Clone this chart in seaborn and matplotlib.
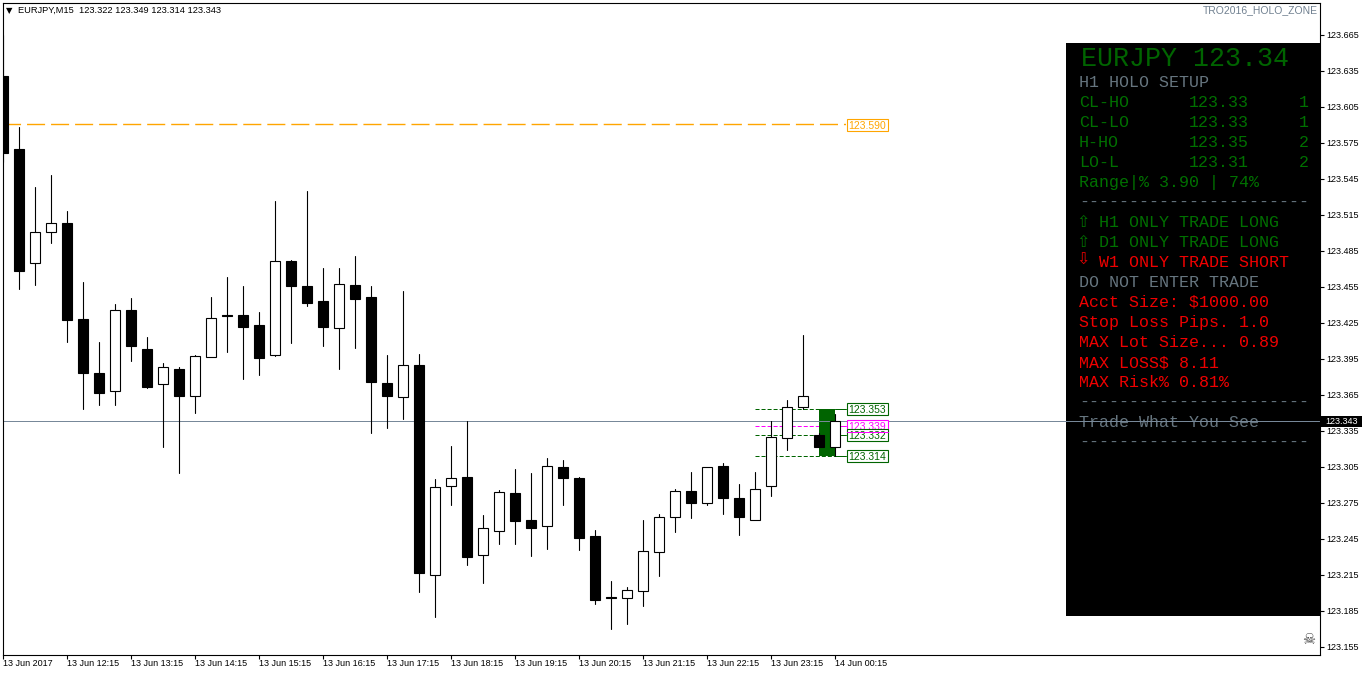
import pandas as pd
import matplotlib.pyplot as plt
import matplotlib.patches as patches
import seaborn as sns

symbol_header = "EURJPY,M15  123.322 123.349 123.314 123.343"
indicator_name = "TRO2016_HOLO_ZONE"

opens = [123.631, 123.570, 123.475, 123.501, 123.508, 123.428, 123.383, 123.368, 123.436,
         123.403, 123.374, 123.387, 123.364, 123.397, 123.432, 123.432, 123.423, 123.398,
         123.477, 123.456, 123.443, 123.421, 123.457, 123.447, 123.375, 123.363, 123.390,
         123.215, 123.289, 123.297, 123.232, 123.252, 123.283, 123.261, 123.256, 123.305,
         123.296, 123.2475, 123.197, 123.196, 123.202, 123.234, 123.263, 123.285, 123.275,
         123.306, 123.279, 123.261, 123.289, 123.329, 123.355, 123.332, 123.322]
closes = [123.567, 123.468, 123.501, 123.508, 123.4275, 123.383, 123.367, 123.436, 123.406,
          123.372, 123.388, 123.364, 123.3975, 123.429, 123.431, 123.422, 123.396, 123.477,
          123.456, 123.442, 123.422, 123.4575, 123.445, 123.376, 123.364, 123.390, 123.217,
          123.288, 123.296, 123.230, 123.254, 123.284, 123.260, 123.254, 123.306, 123.296,
          123.246, 123.194, 123.196, 123.2025, 123.235, 123.263, 123.285, 123.275, 123.305,
          123.279, 123.263, 123.287, 123.330, 123.355, 123.364, 123.322, 123.343]
highs = [123.665, 123.588, 123.538, 123.548, 123.518, 123.459, 123.409, 123.441, 123.446,
         123.413, 123.392, 123.388, 123.398, 123.447, 123.463, 123.456, 123.434, 123.527,
         123.4775, 123.535, 123.471, 123.471, 123.481, 123.456, 123.398, 123.452, 123.399,
         123.295, 123.3225, 123.343, 123.265, 123.286, 123.303, 123.300, 123.3125, 123.311,
         123.2967, 123.2525, 123.210, 123.205, 123.261, 123.266, 123.287, 123.301, 123.305,
         123.308, 123.291, 123.301, 123.343, 123.361, 123.415, 123.333, 123.349]
lows = [123.559, 123.453, 123.457, 123.492, 123.409, 123.353, 123.357, 123.357, 123.393,
        123.371, 123.322, 123.300, 123.350, 123.401, 123.401, 123.378, 123.382, 123.3975,
        123.408, 123.439, 123.406, 123.387, 123.404, 123.333, 123.3375, 123.345, 123.201,
        123.180, 123.273, 123.223, 123.208, 123.241, 123.241, 123.231, 123.237, 123.273,
        123.236, 123.191, 123.170, 123.174, 123.189, 123.214, 123.251, 123.2625, 123.273,
        123.266, 123.248, 123.261, 123.281, 123.319, 123.353, 123.322, 123.314]

tick_labels = ["13 Jun 2017", "13 Jun 12:15", "13 Jun 13:15", "13 Jun 14:15", "13 Jun 15:15",
               "13 Jun 16:15", "13 Jun 17:15", "13 Jun 18:15", "13 Jun 19:15", "13 Jun 20:15",
               "13 Jun 21:15", "13 Jun 22:15", "13 Jun 23:15", "14 Jun 00:15"]
price_ticks = [123.665, 123.635, 123.605, 123.575, 123.545, 123.515, 123.485, 123.455, 123.425,
               123.395, 123.365, 123.335, 123.305, 123.275, 123.245, 123.215, 123.185, 123.155]
current_price = 123.343
orange_level = 123.590
green_levels = [123.353, 123.332, 123.314]
magenta_level = 123.339

panel_lines = [
    ("H1 HOLO SETUP", "grey"),
    ("CL-HO", "green"),
    ("CL-LO", "green"),
    ("H-HO", "green"),
    ("LO-L", "green"),
    ("Range|% 3.90 | 74%", "green"),
    ("-" * 23, "grey"),
    ("  H1 ONLY TRADE LONG", "green"),
    ("  D1 ONLY TRADE LONG", "green"),
    ("  W1 ONLY TRADE SHORT", "red"),
    ("DO NOT ENTER TRADE", "grey"),
    ("Acct Size: $1000.00", "red"),
    ("Stop Loss Pips. 1.0", "red"),
    ("MAX Lot Size... 0.89", "red"),
    ("MAX LOSS$ 8.11", "red"),
    ("MAX Risk% 0.81%", "red"),
    ("-" * 23, "grey"),
    ("Trade What You See", "grey"),
    ("-" * 23, "grey"),
]
holo_prices = ["123.33", "123.33", "123.35", "123.31"]
holo_counts = ["1", "1", "2", "2"]
panel_colors = {"grey": "#66757f", "green": "#007000", "red": "#f00000"}

W, H = 1362, 675
AX_L, AX_R, AX_T, AX_B = 2.5, 1319.5, 2.5, 654.5


def px_x(x):
    return (x - 3) / 16


def px_y(y):
    return 123.665 - (y - 35) / 1200


sns.set_theme(style="white", rc={"axes.linewidth": 0.8, "axes.edgecolor": "black", "lines.scale_dashes": False})
plt.rcParams["font.family"] = ["Liberation Sans", "DejaVu Sans"]

df = pd.DataFrame({"open": opens, "high": highs, "low": lows, "close": closes})
df["bar"] = range(len(df))
df["body"] = (df["open"] - df["close"]).abs()
df["base"] = df[["open", "close"]].min(axis=1)
wicks = df.melt(id_vars="bar", value_vars=["high", "low"], value_name="price").sort_values("bar")
bears = df[df["close"] < df["open"]]
bulls = df[df["close"] >= df["open"]]

fig = plt.figure(figsize=(W / 100, H / 100), dpi=100, facecolor="white")
ax = fig.add_axes([AX_L / W, 1 - AX_B / H, (AX_R - AX_L) / W, (AX_B - AX_T) / H])

# info panel sits low so the price line runs over it, candles never reach it
panel = patches.Rectangle((1066 / W, 1 - 616 / H), (AX_R - 1066) / W, (616 - 43) / H,
                          transform=fig.transFigure, facecolor="black", edgecolor="none", zorder=0.5)
ax.add_patch(panel)
panel_text = dict(transform=fig.transFigure, family="Liberation Mono", va="center", zorder=1.7)
ax.text(1081 / W, 1 - 58.5 / H, "EURJPY 123.34", fontsize=19.2, color="#006400", **panel_text)
for n, (line, col) in enumerate(panel_lines):
    indent = len(line) - len(line.lstrip())
    ax.text((1079 + 10 * indent) / W, 1 - (82.5 + 20 * n) / H, line.lstrip(), fontsize=12,
            color=panel_colors[col], **panel_text)
for n in range(4):
    row = 1 - (102.5 + 20 * n) / H
    ax.text(1189 / W, row, holo_prices[n], fontsize=12, color=panel_colors["green"], **panel_text)
    ax.text(1299 / W, row, holo_counts[n], fontsize=12, color=panel_colors["green"], **panel_text)
arrows = [(222.5, "\u21e7", "green"), (242.5, "\u21e7", "green"), (260.5, "\u21e9", "red")]
for row, glyph, col in arrows:
    ax.text(1082.5 / W, 1 - row / H, glyph, transform=fig.transFigure, family="DejaVu Sans", fontsize=11.5,
            color=panel_colors[col], ha="center", va="center", zorder=1.7)

# dotted levels and holo zone go under the candles
for lvl in green_levels:
    ax.plot([px_x(755), px_x(835)], [lvl, lvl], color="#006400", lw=0.72, dashes=(2.9, 1.44), zorder=1)
    ax.plot([px_x(835), px_x(846)], [lvl, lvl], color="#006400", lw=0.72, zorder=1)
ax.plot([px_x(755), px_x(841)], [magenta_level, magenta_level], color="#ff00ff", lw=0.72,
        dashes=(2.9, 1.44), zorder=1)
ax.plot([px_x(835), px_x(846)], [magenta_level, magenta_level], color="#ff00ff", lw=0.72, zorder=1)
ax.add_patch(patches.Rectangle((51, green_levels[2]), 1, green_levels[0] - green_levels[2],
                               facecolor="#006400", edgecolor="none", zorder=1.5))
ax.plot([px_x(3), px_x(846)], [orange_level + 0.5 / 1200] * 2, color="#ffa500", lw=1.0,
        dashes=(13, 4.3), zorder=1, snap=False)

ax.axhline(current_price, color="#778899", lw=0.72, zorder=1.8)

sns.lineplot(data=wicks, x="bar", y="price", units="bar", estimator=None, color="black",
             lw=0.8, ax=ax, legend=False, zorder=2)
sns.barplot(data=bulls, x="bar", y="body", bottom=bulls["base"], native_scale=True, width=0.58,
            color="white", edgecolor="black", linewidth=0.8, saturation=1, ax=ax, zorder=3)
sns.barplot(data=bears, x="bar", y="body", bottom=bears["base"], native_scale=True, width=0.63,
            color="black", edgecolor="black", linewidth=0.8, saturation=1, ax=ax, zorder=3)

ax.set_xlim(px_x(AX_L), px_x(AX_R))
ax.set_ylim(px_y(AX_B), px_y(AX_T))
ax.set_xlabel("")
ax.set_ylabel("")
ax.set_xticks(range(0, 4 * len(tick_labels), 4))
ax.set_xticklabels(tick_labels, ha="left", fontsize=6.5)
ax.set_yticks(price_ticks)
ax.set_yticklabels([f"{p:.3f}" for p in price_ticks], fontsize=6.5)
ax.yaxis.tick_right()
ax.tick_params(axis="x", length=3, width=0.8, pad=0.5, color="black", labelcolor="black", bottom=True)
ax.tick_params(axis="y", length=3, width=0.8, pad=2, color="black", labelcolor="black", right=True)


def level_label(price, color, z):
    ax.add_patch(patches.Rectangle((px_x(846.5), price - 6 / 1200), 41 / 16, 12 / 1200, facecolor="white",
                                   edgecolor=color, lw=0.8, zorder=z))
    ax.text(px_x(867), price, f"{price:.3f}", fontsize=7.5, color=color, ha="center", va="center_baseline",
            zorder=z + 0.1)


level_label(orange_level, "#ffa500", 5)
level_label(magenta_level, "#ff00ff", 5)
for lvl in green_levels:
    level_label(lvl, "#006400", 6)
# bottom edge of the magenta box stays visible over the 123.332 box
ax.plot([px_x(846.5), px_x(887.5)], [magenta_level - 6 / 1200] * 2, color="#ff00ff", lw=0.72, zorder=7)

fig.patches.append(patches.Rectangle((1321 / W, 1 - 426.7 / H), 41 / W, 10.7 / H, transform=fig.transFigure,
                                     facecolor="black", edgecolor="none", zorder=19, figure=fig))
fig.text(1341.5 / W, 1 - 421.5 / H, f"{current_price:.3f}", fontsize=6.5, color="white", ha="center", va="center",
         zorder=20)
fig.text(18 / W, 1 - 10.5 / H, symbol_header, fontsize=6.7, color="black", va="center")
fig.text(9.5 / W, 1 - 10.5 / H, "\u25bc", fontsize=6, family="DejaVu Sans", color="black", ha="center", va="center")
fig.text(1318 / W, 1 - 10.5 / H, indicator_name, fontsize=7.5, color="#708090", ha="right", va="center")
fig.text(1308.5 / W, 1 - 640 / H, "\u2620", fontsize=10.5, family="DejaVu Sans", color="#444444", ha="center",
         va="center")

fig.savefig("out.png", dpi=100)
